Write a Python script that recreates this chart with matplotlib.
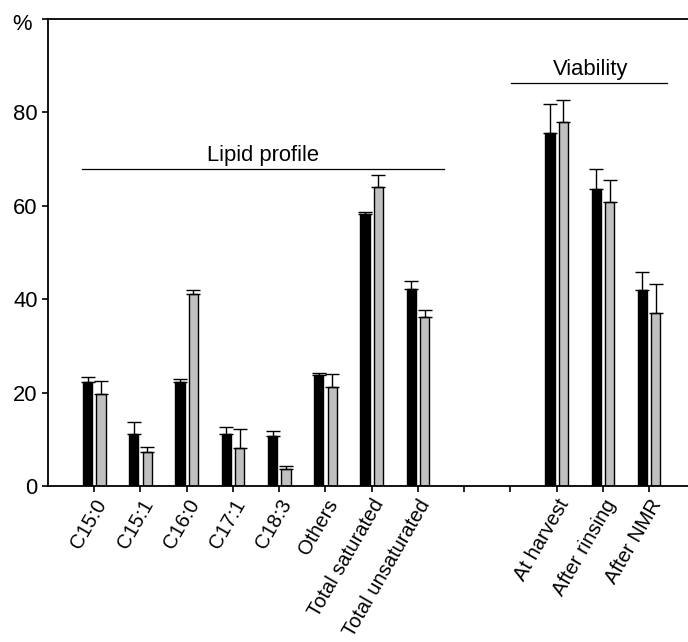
import numpy as np
import matplotlib
matplotlib.use("Agg")
import matplotlib.pyplot as plt

plt.rcParams['font.family'] = ['Liberation Sans', 'DejaVu Sans']
plt.rcParams['font.size'] = 15.8

# categories (positions 8 and 9 are an empty gap with ticks only)
labels = ["C15:0", "C15:1", "C16:0", "C17:1", "C18:3", "Others",
          "Total saturated", "Total unsaturated", "", "",
          "At harvest", "After rinsing", "After NMR"]
pos = [0, 1, 2, 3, 4, 5, 6, 7, 10, 11, 12]

black = [22.2, 11.2, 22.2, 11.2, 10.7, 23.7, 58.3, 42.1, 75.6, 63.7, 42.0]
black_err = [1.2, 2.4, 0.7, 1.4, 1.0, 0.6, 0.4, 1.7, 6.2, 4.1, 3.9]
grey = [19.6, 7.2, 41.1, 8.2, 3.6, 21.1, 64.1, 36.1, 78.0, 60.9, 37.0]
grey_err = [2.8, 1.1, 0.8, 3.9, 0.75, 2.8, 2.6, 1.5, 4.6, 4.6, 6.2]

fig = plt.figure(figsize=(6.88, 6.42), dpi=100)
ax = fig.add_axes([48/688, 1 - 486/642, 1 - 48/688, (486 - 19)/642])

x = np.array(pos)
w = 0.2
errkw = dict(elinewidth=1.0, capthick=1.0, ecolor='black')
ax.bar(x - 0.145, black, w, color='black', edgecolor='black', linewidth=1,
       yerr=[np.zeros(len(black)), black_err], capsize=4.8, error_kw=errkw, zorder=2)
ax.bar(x + 0.145, grey, w, color='#c0c0c0', edgecolor='black', linewidth=1,
       yerr=[np.zeros(len(grey)), grey_err], capsize=4.8, error_kw=errkw, zorder=2)

ax.set_xlim(-1, 12.84)
ax.set_ylim(0, 100)
ax.set_xticks(range(13))
ax.set_xticklabels(labels, rotation=60, ha='right', va='top', rotation_mode='anchor',
                   fontsize=14.5)
ax.set_yticks([0, 20, 40, 60, 80, 100])
ax.set_yticklabels(["0", "20", "40", "60", "80", ""])
ax.tick_params(length=4.3, width=1.2, pad=3)
ax.annotate('%', xy=(0, 100), xycoords=('axes fraction', 'data'),
            xytext=(-12, -3.6), textcoords='offset points', ha='right', va='center')

ax.spines['right'].set_visible(False)
for s in ['left', 'top', 'bottom']:
    ax.spines[s].set_linewidth(1.3)

# group annotations
ax.plot([-0.27, 7.56], [67.9, 67.9], color='black', lw=0.9, clip_on=False)
ax.text(3.66, 68.6, "Lipid profile", ha='center', va='bottom')
ax.plot([9.01, 12.38], [86.3, 86.3], color='black', lw=0.9, clip_on=False)
ax.text(10.74, 87.0, "Viability", ha='center', va='bottom')

fig.savefig("out.png", dpi=100)
